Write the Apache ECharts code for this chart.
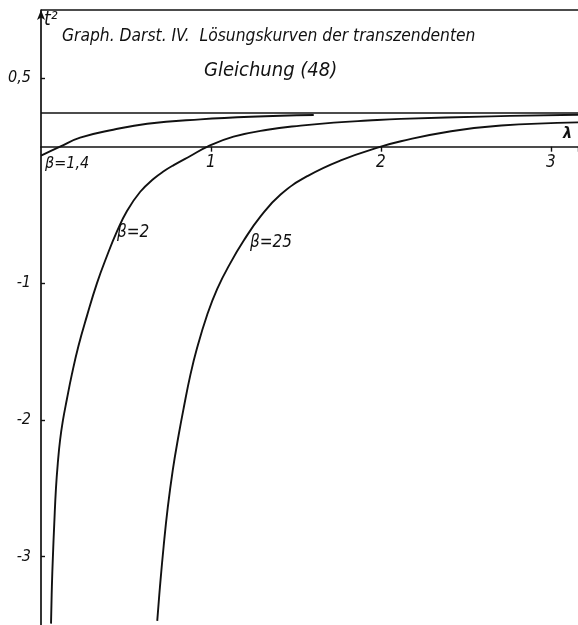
<!DOCTYPE html>
<html>
<head>
<meta charset="utf-8">
<script src="https://cdn.jsdelivr.net/npm/echarts@6/dist/echarts.min.js"></script>
<style>
  html, body { margin: 0; padding: 0; background: #fff; }
  #chart { width: 578px; height: 625px; }
</style>
</head>
<body>
<div id="chart"></div>
<script>
// Solution curves t^2(lambda) of the transcendental equation (48)
const curveNames = ['β=1,4', 'β=2', 'β=25'];

const lambdaB14 = [0.0, 0.112, 0.230, 0.425, 0.625, 0.938, 1.233, 1.605];
const t2B14     = [-0.066, 0.0, 0.066, 0.124, 0.168, 0.200, 0.219, 0.232];

const lambdaB2 = [0.059, 0.064, 0.070, 0.078, 0.088, 0.100, 0.112, 0.128, 0.152, 0.181, 0.220, 0.270,
                  0.329, 0.388, 0.447, 0.506, 0.584, 0.663, 0.722, 0.781, 0.879, 0.980, 1.133, 1.333,
                  1.528, 1.723, 1.923, 2.118, 2.649, 3.168];
const t2B2     = [-3.49, -3.22, -3.00, -2.76, -2.50, -2.30, -2.15, -2.01, -1.85, -1.67, -1.46, -1.24,
                  -1.00, -0.80, -0.62, -0.47, -0.330, -0.235, -0.180, -0.135, -0.068, 0.0, 0.073, 0.124,
                  0.154, 0.176, 0.191, 0.203, 0.222, 0.234];

const lambdaB25 = [0.684, 0.700, 0.722, 0.746, 0.775, 0.810, 0.840, 0.879, 0.919, 0.978, 1.037, 1.115,
                   1.194, 1.292, 1.410, 1.568, 1.764, 2.000, 2.118, 2.413, 2.708, 3.168];
const t2B25     = [-3.47, -3.22, -2.92, -2.64, -2.37, -2.11, -1.91, -1.67, -1.47, -1.23, -1.04, -0.85,
                   -0.685, -0.51, -0.35, -0.215, -0.10, 0.0, 0.040, 0.113, 0.155, 0.178];

// Horizontal reference lines: asymptote and upper frame edge
const asymptoteT2 = 0.25;
const frameTopT2 = 1.0;

// Axis ranges and tick labels
const lambdaMin = 0, lambdaMax = 3.16;
const t2Min = -3.5, t2Max = 1.0;
const xTickValues = [1, 2, 3];
const xTickLabels = ['1', '2', '3'];
const yTickValues = [0.5, -1, -2, -3];
const yTickLabels = ['0,5', '-1', '-2', '-3'];

const pairs = (xs, ys) => xs.map((x, i) => [x, ys[i]]);

const FONT = '"DejaVu Sans Condensed", "Liberation Sans Narrow", "DejaVu Sans", sans-serif';
const INK = '#111';

// Plot box in pixels
const BOX = { left: 41, top: 10, width: 537, height: 615 };
// Upper band whose lower edge sits on t^2 = 0, carrying the lambda tick labels
const zeroBandHeight = BOX.height * (t2Max - 0) / (t2Max - t2Min);

const chart = echarts.init(document.getElementById('chart'), null, { renderer: 'canvas' });

const curveSeries = [
  [lambdaB14, t2B14],
  [lambdaB2, t2B2],
  [lambdaB25, t2B25]
].map(([xs, ys], i) => ({
  name: curveNames[i],
  type: 'line',
  xAxisIndex: 0,
  yAxisIndex: 0,
  data: pairs(xs, ys),
  smooth: 0.45,
  showSymbol: false,
  symbol: 'none',
  clip: true,
  lineStyle: { color: INK, width: 1.9 },
  z: 3
}));

const labelFor = (values, labels) => v => {
  const k = values.findIndex(t => Math.abs(t - v) < 1e-9);
  return k >= 0 ? labels[k] : '';
};

chart.setOption({
  backgroundColor: '#fff',
  animation: false,
  grid: [
    { left: BOX.left, top: BOX.top, width: BOX.width, height: BOX.height,
      containLabel: false, outerBoundsMode: 'none' },
    { left: BOX.left, top: BOX.top, width: BOX.width, height: zeroBandHeight,
      containLabel: false, outerBoundsMode: 'none' }
  ],
  xAxis: [
    {
      gridIndex: 0,
      type: 'value',
      min: lambdaMin,
      max: lambdaMax,
      interval: 1,
      axisLine: { show: false },
      axisTick: { show: false },
      axisLabel: { show: false },
      splitLine: { show: false }
    },
    {
      gridIndex: 1,
      type: 'value',
      position: 'bottom',
      min: lambdaMin,
      max: lambdaMax,
      interval: 1,
      axisLine: { show: true, onZero: false, lineStyle: { color: INK, width: 1.7 } },
      axisTick: { show: true, inside: false, length: 5, lineStyle: { color: INK, width: 1.4 } },
      axisLabel: {
        showMinLabel: false,
        formatter: labelFor(xTickValues, xTickLabels),
        color: INK, fontFamily: FONT, fontStyle: 'italic', fontSize: 17, margin: 7
      },
      splitLine: { show: false }
    }
  ],
  yAxis: [
    {
      gridIndex: 0,
      type: 'value',
      min: t2Min,
      max: t2Max,
      interval: 0.5,
      axisLine: { show: true, lineStyle: { color: INK, width: 1.7 },
                  symbol: ['none', 'arrow'], symbolSize: [6, 10] },
      axisTick: { show: true, inside: true, length: 4, customValues: yTickValues,
                  lineStyle: { color: INK, width: 1.4 } },
      axisLabel: {
        customValues: yTickValues,
        formatter: labelFor(yTickValues, yTickLabels),
        color: INK, fontFamily: FONT, fontStyle: 'italic', fontSize: 16, margin: 10
      },
      splitLine: { show: false }
    },
    {
      gridIndex: 1,
      type: 'value',
      min: 0,
      max: t2Max,
      show: false
    }
  ],
  series: [
    ...curveSeries,
    {
      name: 'Bezugslinien',
      type: 'line',
      xAxisIndex: 0,
      yAxisIndex: 0,
      data: [],
      symbol: 'none',
      markLine: {
        silent: true,
        symbol: ['none', 'none'],
        label: { show: false },
        lineStyle: { color: INK, width: 1.7, type: 'solid' },
        data: [{ yAxis: asymptoteT2 }, { yAxis: frameTopT2 }]
      }
    }
  ],
  graphic: [
    { type: 'text', left: 44, top: 11,
      style: { text: 't²', fill: INK, font: 'italic 19px ' + FONT } },
    { type: 'text', left: 62, top: 28,
      style: { text: 'Graph. Darst. IV.  Lösungskurven der transzendenten', fill: INK,
               font: 'italic 17.3px ' + FONT } },
    { type: 'text', left: 204, top: 61,
      style: { text: 'Gleichung (48)', fill: INK, font: 'italic 20px ' + FONT } },
    { type: 'text', left: 563, top: 126,
      style: { text: 'λ', fill: INK, font: 'italic bold 16px ' + FONT } },
    { type: 'text', left: 45, top: 156,
      style: { text: curveNames[0], fill: INK, font: 'italic 16px ' + FONT } },
    { type: 'text', left: 117, top: 224,
      style: { text: curveNames[1], fill: INK, font: 'italic 17px ' + FONT } },
    { type: 'text', left: 250, top: 234,
      style: { text: curveNames[2], fill: INK, font: 'italic 17px ' + FONT } }
  ]
});
</script>
</body>
</html>
